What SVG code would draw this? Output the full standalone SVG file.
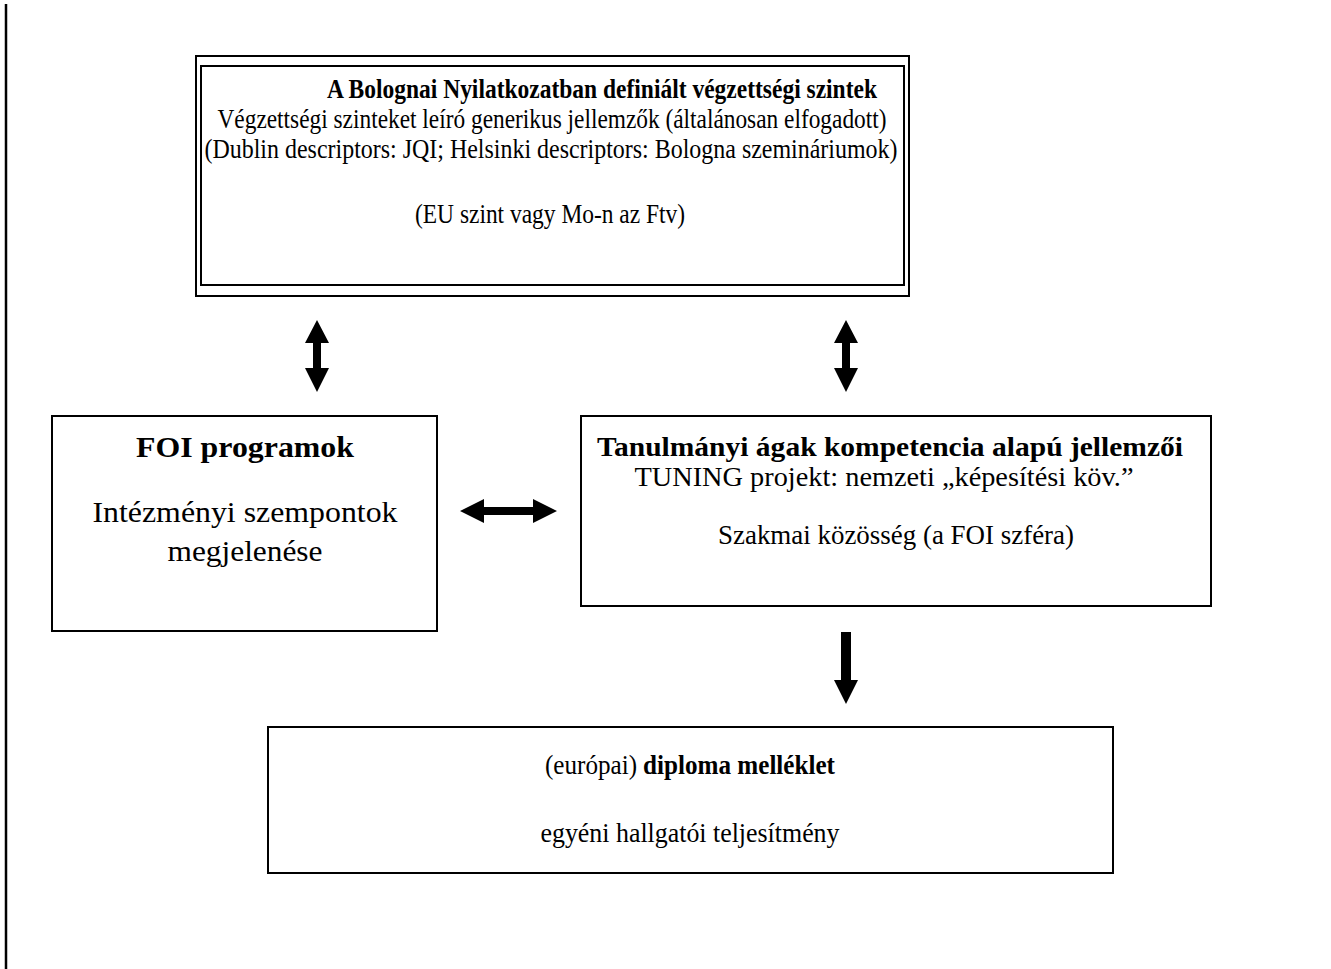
<svg xmlns="http://www.w3.org/2000/svg" width="1331" height="969" viewBox="0 0 1331 969">
<style>
.box{fill:#fff;stroke:#000;stroke-width:2}
.t{font-family:"Liberation Serif","Times New Roman",serif;fill:#000;text-anchor:middle}
.s{text-anchor:start}
.b{font-weight:bold}
.arr{fill:#000;stroke:none}
</style>
<rect width="1331" height="969" fill="#fff"/>
<line x1="6" y1="4" x2="6" y2="969" stroke="#000" stroke-width="2.5"/>
<g id="bologna">
<rect class="box" x="196" y="56" width="713" height="240"/>
<rect class="box" x="201" y="66" width="703" height="219"/>
<text class="t b" x="602" y="98" font-size="28" textLength="550" lengthAdjust="spacingAndGlyphs">A Bolognai Nyilatkozatban definiált végzettségi szintek</text>
<text class="t" x="552" y="128" font-size="28" textLength="669" lengthAdjust="spacingAndGlyphs">Végzettségi szinteket leíró generikus jellemzők (általánosan elfogadott)</text>
<text class="t" x="551" y="158" font-size="28" textLength="693" lengthAdjust="spacingAndGlyphs">(Dublin descriptors: JQI; Helsinki descriptors: Bologna szemináriumok)</text>
<text class="t" x="550" y="223" font-size="28" textLength="270" lengthAdjust="spacingAndGlyphs">(EU szint vagy Mo-n az Ftv)</text>
</g>
<g id="foi">
<rect class="box" x="52" y="416" width="385" height="215"/>
<text class="t b" x="245" y="457" font-size="30" textLength="218" lengthAdjust="spacingAndGlyphs">FOI programok</text>
<text class="t" x="245" y="522" font-size="30" textLength="305" lengthAdjust="spacingAndGlyphs">Intézményi szempontok</text>
<text class="t" x="245" y="561" font-size="30" textLength="155" lengthAdjust="spacingAndGlyphs">megjelenése</text>
</g>
<g id="tanulmanyi">
<rect class="box" x="581" y="416" width="630" height="190"/>
<text class="t b" x="890" y="456" font-size="27" textLength="586" lengthAdjust="spacingAndGlyphs">Tanulmányi ágak kompetencia alapú jellemzői</text>
<text class="t" x="884" y="486" font-size="27" textLength="499" lengthAdjust="spacingAndGlyphs">TUNING projekt: nemzeti „képesítési köv.”</text>
<text class="t" x="896" y="544" font-size="27" textLength="356" lengthAdjust="spacingAndGlyphs">Szakmai közösség (a FOI szféra)</text>
</g>
<g id="diploma">
<rect class="box" x="268" y="727" width="845" height="146"/>
<text class="t s" x="545" y="774" font-size="28" textLength="92" lengthAdjust="spacingAndGlyphs">(európai)</text>
<text class="t s b" x="643" y="774" font-size="28" textLength="192" lengthAdjust="spacingAndGlyphs">diploma melléklet</text>
<text class="t" x="690" y="842" font-size="28" textLength="299" lengthAdjust="spacingAndGlyphs">egyéni hallgatói teljesítmény</text>
</g>
<g id="connectors">
<path class="arr" d="M317,320 L329,343 L321,343 L321,368 L329,368 L317,392 L305,368 L313,368 L313,343 L305,343 Z"/>
<path class="arr" d="M846,320 L858,343 L850,343 L850,368 L858,368 L846,392 L834,368 L842,368 L842,343 L834,343 Z"/>
<path class="arr" d="M460,511 L484,499 L484,507 L533,507 L533,499 L557,511 L533,523 L533,515 L484,515 L484,523 Z"/>
<path class="arr" d="M841,632 L851,632 L851,680 L858,680 L846,704 L834,680 L841,680 Z"/>
</g>
</svg>
